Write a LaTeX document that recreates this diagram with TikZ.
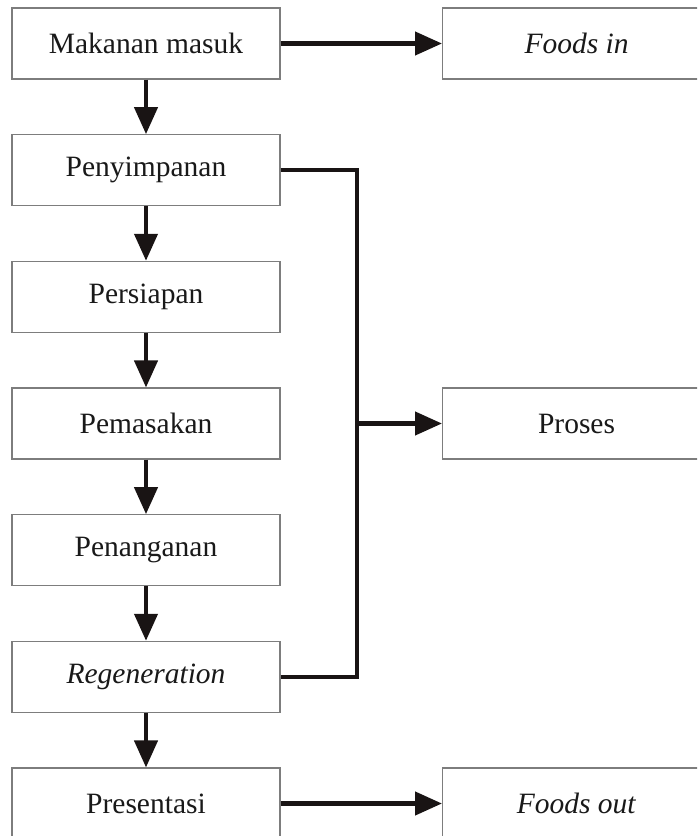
\documentclass[tikz,border=0pt]{standalone}
\usepackage{fontspec}
\setmainfont{Liberation Serif}
\usetikzlibrary{arrows.meta}
\definecolor{boxgray}{RGB}{125,125,125}
\definecolor{arrowblack}{RGB}{25,20,20}
\begin{document}
\begin{tikzpicture}[x=1pt,y=-1pt,
  box/.style={draw=boxgray, line width=1.1pt, fill=white, minimum width=268pt, minimum height=71pt, inner sep=0pt, font=\fontsize{29.5}{32}\selectfont, text=black!90},
  rbox/.style={box},
  conn/.style={draw=arrowblack, line width=4.3pt, line join=miter},
  arr/.style={conn, -{Triangle[length=27pt,width=23pt]}}]
\useasboundingbox (0,0) rectangle (697,836);
\clip (0,0) rectangle (697,836);
\node[box] (b1) at (146,43.5) {Makanan masuk};
\node[box] (b2) at (146,170.2) {Penyimpanan};
\node[box] (b3) at (146,296.8) {Persiapan};
\node[box] (b4) at (146,423.5) {Pemasakan};
\node[box] (b5) at (146,550.2) {Penanganan};
\node[box] (b6) at (146,676.8) {\textit{Regeneration}};
\node[box] (b7) at (146,803.5) {Presentasi};
\node[rbox, anchor=west] (fin) at (442,43.5) {\textit{Foods in}};
\node[rbox, anchor=west] (pro) at (442,423.5) {Proses};
\node[rbox, anchor=west] (fout) at (442,803.5) {\textit{Foods out}};
\coordinate (vt) at (357,170.2);
\coordinate (vb) at (357,676.8);
\coordinate (vm) at (357,423.5);
\draw[arr] (b1) -- (b2);
\draw[arr] (b2) -- (b3);
\draw[arr] (b3) -- (b4);
\draw[arr] (b4) -- (b5);
\draw[arr] (b5) -- (b6);
\draw[arr] (b6) -- (b7);
\draw[arr] (b1.east) -- (fin.west);
\draw[arr] (b7.east) -- (fout.west);
\draw[conn] (b2.east) -- (vt) -- (vb) -- (b6.east);
\draw[arr] (vm) -- (pro.west);
\end{tikzpicture}
\end{document}
